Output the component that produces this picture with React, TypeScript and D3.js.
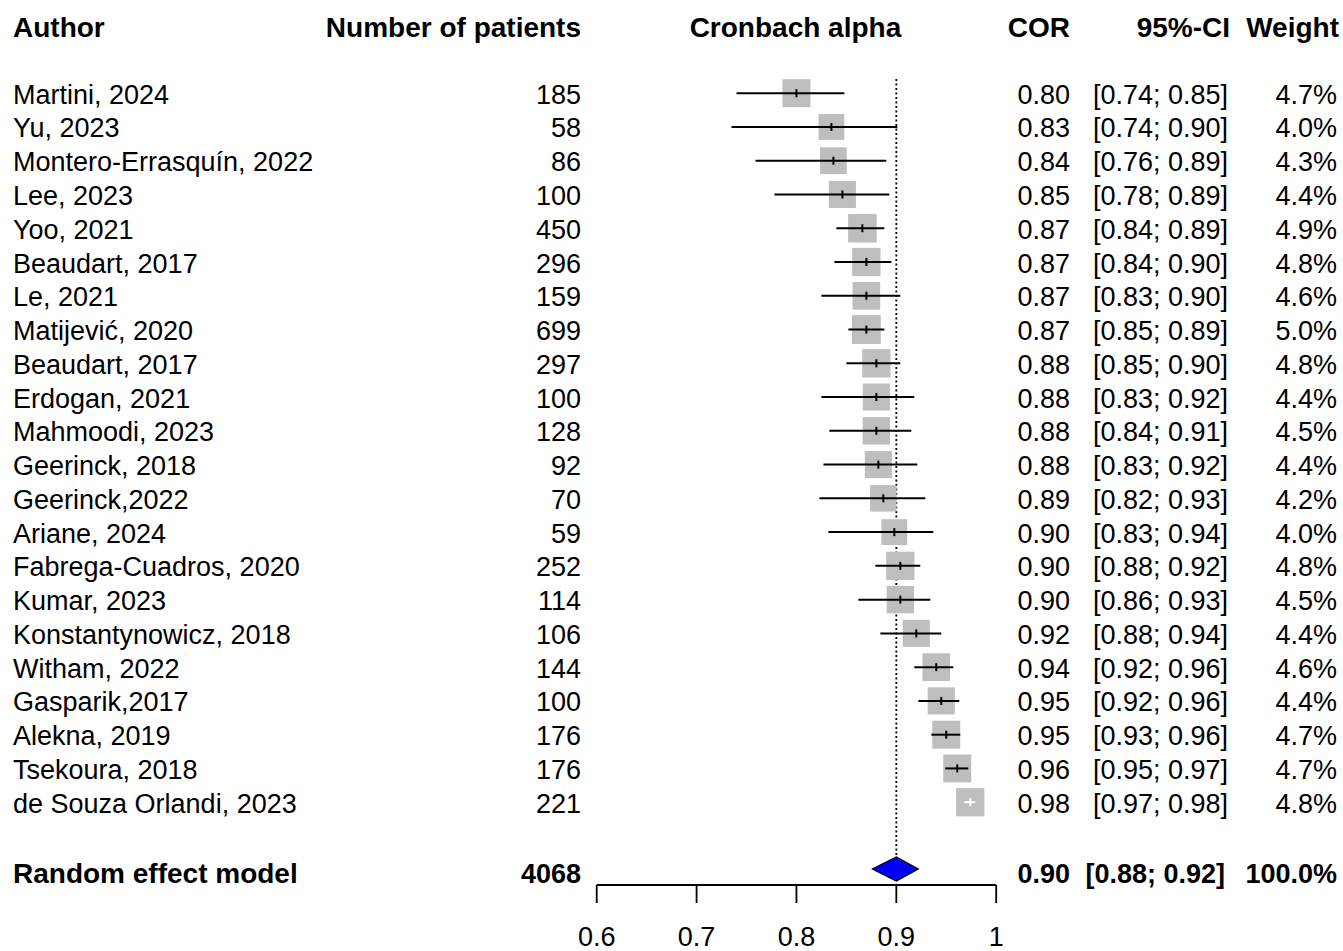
import React from "react";
import * as d3 from "d3";

const authors = [
  "Martini, 2024", "Yu, 2023", "Montero-Errasquín, 2022", "Lee, 2023", "Yoo, 2021",
  "Beaudart, 2017", "Le, 2021", "Matijević, 2020", "Beaudart, 2017", "Erdogan, 2021",
  "Mahmoodi, 2023", "Geerinck, 2018", "Geerinck,2022", "Ariane, 2024", "Fabrega-Cuadros, 2020",
  "Kumar, 2023", "Konstantynowicz, 2018", "Witham, 2022", "Gasparik,2017", "Alekna, 2019",
  "Tsekoura, 2018", "de Souza Orlandi, 2023",
];
const patients = [185, 58, 86, 100, 450, 296, 159, 699, 297, 100, 128, 92, 70, 59, 252, 114, 106, 144, 100, 176, 176, 221];
const corLabels = ["0.80", "0.83", "0.84", "0.85", "0.87", "0.87", "0.87", "0.87", "0.88", "0.88", "0.88", "0.88", "0.89", "0.90", "0.90", "0.90", "0.92", "0.94", "0.95", "0.95", "0.96", "0.98"];
const ciLabels = [
  "[0.74; 0.85]", "[0.74; 0.90]", "[0.76; 0.89]", "[0.78; 0.89]", "[0.84; 0.89]",
  "[0.84; 0.90]", "[0.83; 0.90]", "[0.85; 0.89]", "[0.85; 0.90]", "[0.83; 0.92]",
  "[0.84; 0.91]", "[0.83; 0.92]", "[0.82; 0.93]", "[0.83; 0.94]", "[0.88; 0.92]",
  "[0.86; 0.93]", "[0.88; 0.94]", "[0.92; 0.96]", "[0.92; 0.96]", "[0.93; 0.96]",
  "[0.95; 0.97]", "[0.97; 0.98]",
];
const weights = [4.7, 4.0, 4.3, 4.4, 4.9, 4.8, 4.6, 5.0, 4.8, 4.4, 4.5, 4.4, 4.2, 4.0, 4.8, 4.5, 4.4, 4.6, 4.4, 4.7, 4.7, 4.8];
// plotted estimates and CIs (read from the marks)
const estimates = [0.800, 0.835, 0.837, 0.846, 0.866, 0.870, 0.870, 0.870, 0.880, 0.880, 0.880, 0.882, 0.887, 0.898, 0.904, 0.904, 0.920, 0.940, 0.945, 0.950, 0.961, 0.974];
const lowers = [0.740, 0.735, 0.759, 0.778, 0.840, 0.838, 0.825, 0.852, 0.850, 0.825, 0.833, 0.827, 0.823, 0.832, 0.879, 0.862, 0.884, 0.918, 0.922, 0.935, 0.949, 0.968];
const uppers = [0.848, 0.901, 0.890, 0.893, 0.888, 0.895, 0.904, 0.888, 0.904, 0.918, 0.915, 0.921, 0.929, 0.937, 0.924, 0.934, 0.945, 0.957, 0.963, 0.964, 0.972, 0.979];

const pooled = { label: "Random effect model", n: "4068", est: 0.9, lo: 0.876, hi: 0.922, cor: "0.90", ci: "[0.88; 0.92]", weight: "100.0%" };
const xTicks = [0.6, 0.7, 0.8, 0.9, 1];
const tickLabels = ["0.6", "0.7", "0.8", "0.9", "1"];
const headers = ["Author", "Number of patients", "Cronbach alpha", "COR", "95%-CI", "Weight"];

export default function App() {
  const W = 1343, H = 951;
  const x = d3.scaleLinear().domain([0.6, 1]).range([596.7, 996.2]);
  const y = d3.scaleLinear().domain([0, authors.length - 1]).range([93.2, 802.2]);
  const font = "'Liberation Sans', Arial, Helvetica, sans-serif";
  const fs = 27;
  const fsb = 28;
  const colN = 581, colCor = 1070, colCi = 1228, colW = 1337;
  const yPool = 869;
  const axisY = 885;

  return (
    <svg width={W} height={H} style={{ position: "absolute", left: 0, top: 0, background: "#fff" }} fontFamily={font} fontSize={fs}>
      {/* headers */}
      <g fontWeight="bold" fill="#000" fontSize={fsb}>
        <text x={13} y={37}>{headers[0]}</text>
        <text x={colN} y={37} textAnchor="end">{headers[1]}</text>
        <text x={(x(0.6) + x(1)) / 2 - 1} y={37} textAnchor="middle">{headers[2]}</text>
        <text x={colCor} y={37} textAnchor="end">{headers[3]}</text>
        <text x={colCi + 2} y={37} textAnchor="end">{headers[4]}</text>
        <text x={colW + 2} y={37} textAnchor="end">{headers[5]}</text>
      </g>

      {/* reference dotted line */}
      <line x1={x(pooled.est)} x2={x(pooled.est)} y1={79} y2={yPool - 12} stroke="#000" strokeWidth={1.8} strokeDasharray="2,2.5" />

      {/* study rows */}
      {authors.map((a, i) => {
        const cy = y(i);
        const side = 12.9 * Math.sqrt(weights[i]);
        const cx = x(estimates[i]);
        const inside = x(lowers[i]) > cx - side / 2 + 3 && x(uppers[i]) < cx + side / 2 - 3;
        const lc = inside ? "#fff" : "#000";
        return (
          <g key={i}>
            <text x={13} y={cy + 10.5}>{a}</text>
            <text x={colN} y={cy + 10.5} textAnchor="end">{patients[i]}</text>
            <rect x={cx - side / 2} y={cy - side / 2} width={side} height={side} fill="#BEBEBE" />
            <line x1={x(lowers[i])} x2={x(uppers[i])} y1={cy} y2={cy} stroke={lc} strokeWidth={2} />
            <line x1={cx} x2={cx} y1={cy - 4} y2={cy + 4} stroke={lc} strokeWidth={2} />
            <text x={colCor} y={cy + 10.5} textAnchor="end">{corLabels[i]}</text>
            <text x={colCi} y={cy + 10.5} textAnchor="end">{ciLabels[i]}</text>
            <text x={colW} y={cy + 10.5} textAnchor="end">{weights[i].toFixed(1) + "%"}</text>
          </g>
        );
      })}

      {/* pooled row */}
      <g fontWeight="bold">
        <text x={13} y={883} fontSize={fsb}>{pooled.label}</text>
        <text x={colN} y={883} textAnchor="end">{pooled.n}</text>
        <text x={colCor} y={883} textAnchor="end">{pooled.cor}</text>
        <text x={colCi - 3} y={883} textAnchor="end">{pooled.ci}</text>
        <text x={colW} y={883} textAnchor="end">{pooled.weight}</text>
      </g>
      <polygon
        points={[
          [x(pooled.lo), yPool],
          [x(pooled.est), yPool - 12],
          [x(pooled.hi), yPool],
          [x(pooled.est), yPool + 12],
        ].map((p) => p.join(",")).join(" ")}
        fill="#0000FF"
        stroke="#000"
        strokeWidth={1.2}
      />

      {/* axis */}
      <g stroke="#000" strokeWidth={1.8} fill="none">
        <line x1={x(0.6)} x2={x(1)} y1={axisY} y2={axisY} />
        {xTicks.map((t) => (
          <line key={t} x1={x(t)} x2={x(t)} y1={axisY} y2={axisY + 18} />
        ))}
      </g>
      {xTicks.map((t, i) => (
        <text key={"l" + t} x={x(t)} y={946} textAnchor="middle" fill="#000">{tickLabels[i]}</text>
      ))}
    </svg>
  );
}
